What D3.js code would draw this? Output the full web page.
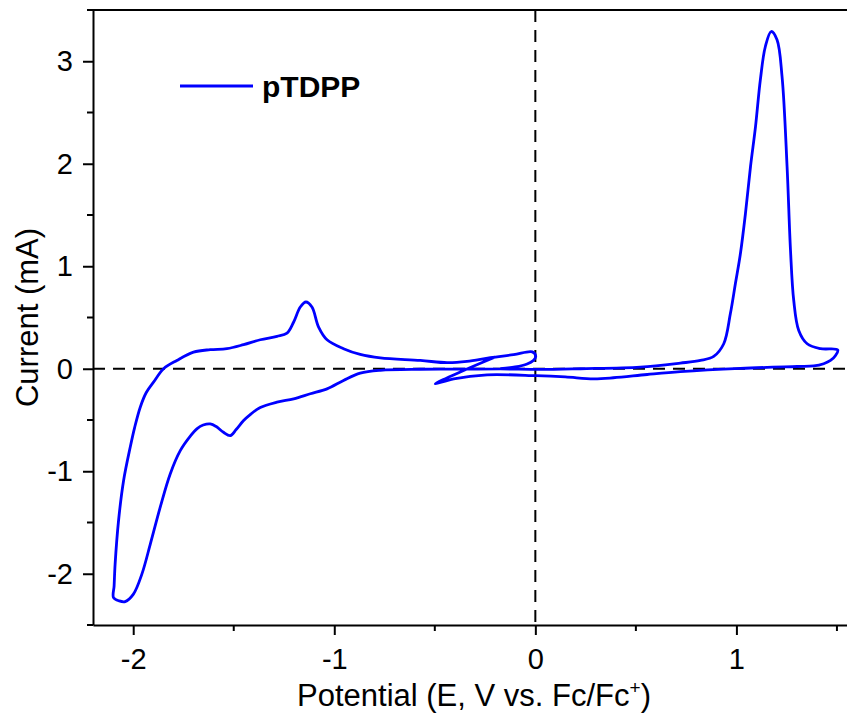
<!DOCTYPE html>
<html>
<head>
<meta charset="utf-8">
<script src="https://cdn.jsdelivr.net/npm/d3@7"></script>
<style>
  body { margin: 0; background: white; }
</style>
</head>
<body>
<script>
// Cyclic voltammogram (one continuous trace)
const potential = [
  -0.199, -0.357, -0.498,
  -0.406, -0.240, 0.005, 0.149, 0.289, 0.388, 0.556, 0.721, 1.020, 1.302, 1.385, 1.434, 1.468, 1.493, 1.504,
  1.418, 1.352, 1.310, 1.285, 1.269, 1.252, 1.227, 1.202, 1.173, 1.144, 1.119, 1.095, 1.070, 1.045, 1.020,
  0.995, 0.970, 0.937, 0.887, 0.821, 0.721, 0.522, 0.224, 0.025,
  -0.174, -0.373, -0.572, -0.771, -0.871, -0.954, -1.036, -1.119, -1.202, -1.285, -1.368, -1.418, -1.451,
  -1.488, -1.517, -1.551, -1.587, -1.617, -1.652, -1.682, -1.716, -1.766, -1.816, -1.866, -1.915, -1.957,
  -1.999, -2.040, -2.070, -2.098,
  -2.095, -2.090, -2.073, -2.048, -2.015, -1.993, -1.965, -1.935, -1.899, -1.849, -1.783, -1.700, -1.617,
  -1.534, -1.451, -1.368, -1.285, -1.235, -1.202, -1.169, -1.141, -1.111, -1.078, -1.036, -0.954, -0.871,
  -0.771, -0.572, -0.439, -0.340, -0.224, -0.108, -0.015,
  0.002, -0.010, -0.041, -0.100, -0.174
];
const current = [
  0.115, -0.017, -0.147,
  -0.098, -0.059, -0.068, -0.080, -0.098, -0.088, -0.056, -0.028, 0.004, 0.022, 0.027, 0.049, 0.081, 0.130, 0.184,
  0.196, 0.244, 0.374, 0.668, 1.156, 1.971, 2.850, 3.209, 3.290, 3.144, 2.818, 2.362, 1.971, 1.515, 1.124,
  0.831, 0.538, 0.244, 0.120, 0.081, 0.055, 0.016, 0.000, -0.007,
  -0.002, -0.004, -0.005, -0.015, -0.043, -0.114, -0.196, -0.244, -0.293, -0.326, -0.378, -0.447, -0.505,
  -0.593, -0.652, -0.620, -0.564, -0.538, -0.549, -0.584, -0.657, -0.799, -1.026, -1.353, -1.711, -2.004,
  -2.199, -2.272, -2.265, -2.233,
  -2.118, -1.906, -1.483, -1.092, -0.766, -0.574, -0.375, -0.232, -0.131, 0.000, 0.081, 0.162, 0.186,
  0.196, 0.235, 0.283, 0.316, 0.348, 0.456, 0.602, 0.651, 0.602, 0.407, 0.283, 0.196, 0.140,
  0.106, 0.081, 0.059, 0.071, 0.108, 0.137, 0.165,
  0.120, 0.081, 0.047, 0.018, 0.000
];
const seriesName = "pTDPP";
const xMajor = [-2, -1, 0, 1];
const xMinor = [-1.5, -0.5, 0.5, 1.5];
const yMajor = [-2, -1, 0, 1, 2, 3];
const yMinor = [-2.5, -1.5, -0.5, 0.5, 1.5, 2.5, 3.5];

// Dimensions
const width = 847;
const height = 714;
const marginTop = 10;
const marginLeft = 93;
const marginBottom = 89;
const tickFont = "29px 'Liberation Sans', Arial, sans-serif";
const titleFont = "31px 'Liberation Sans', Arial, sans-serif";
const blue = "#0000ff";

const x = d3.scaleLinear()
  .domain([-2.2, 1.55])
  .range([marginLeft, width]);

const y = d3.scaleLinear()
  .domain([-2.5, 3.5])
  .range([height - marginBottom, marginTop]);

// plain hyphen for negative tick labels, like the original
const fmt = d => String(d);

const svg = d3.select("body").append("svg")
  .attr("width", width)
  .attr("height", height)
  .attr("viewBox", [0, 0, width, height]);

// Dashed reference lines at 0 V and 0 mA
svg.append("line")
  .attr("x1", x(-2.2)).attr("x2", x(1.55))
  .attr("y1", y(0)).attr("y2", y(0))
  .attr("stroke", "black").attr("stroke-width", 2)
  .attr("stroke-dasharray", "12,8");
svg.append("line")
  .attr("x1", x(0)).attr("x2", x(0))
  .attr("y1", y(3.5)).attr("y2", y(-2.5))
  .attr("stroke", "black").attr("stroke-width", 2)
  .attr("stroke-dasharray", "12,8");

// The curve
const points = potential.map((p, i) => [p, current[i]]);
const line = d3.line()
  .x(d => x(d[0]))
  .y(d => y(d[1]))
  .curve(d3.curveCatmullRom.alpha(0.5));

svg.append("path")
  .datum(points)
  .attr("fill", "none")
  .attr("stroke", blue)
  .attr("stroke-width", 2.8)
  .attr("stroke-linejoin", "round")
  .attr("d", line);

// Bottom axis
const gx = svg.append("g")
  .attr("transform", `translate(0,${height - marginBottom})`)
  .call(d3.axisBottom(x).tickValues(xMajor).tickSize(10).tickPadding(13)
    .tickFormat(fmt).tickSizeOuter(0))
  .call(g => g.selectAll("text").attr("style", `font: ${tickFont}`).attr("fill", "black"));
gx.call(g => g.append("g")
  .selectAll("line").data(xMinor).join("line")
  .attr("x1", d => x(d)).attr("x2", d => x(d))
  .attr("y1", 0).attr("y2", 6)
  .attr("stroke", "black").attr("stroke-width", 2));
gx.selectAll(".domain, .tick line").attr("stroke-width", 2);

// Left axis
const gy = svg.append("g")
  .attr("transform", `translate(${marginLeft},0)`)
  .call(d3.axisLeft(y).tickValues(yMajor).tickSize(10).tickPadding(10)
    .tickFormat(fmt).tickSizeOuter(0))
  .call(g => g.selectAll("text").attr("style", `font: ${tickFont}`).attr("fill", "black"));
gy.call(g => g.append("g")
  .selectAll("line").data(yMinor).join("line")
  .attr("x1", 0).attr("x2", -6)
  .attr("y1", d => y(d)).attr("y2", d => y(d))
  .attr("stroke", "black").attr("stroke-width", 2));
gy.selectAll(".domain, .tick line").attr("stroke-width", 2);

// Top frame line
svg.append("line")
  .attr("x1", marginLeft).attr("x2", width)
  .attr("y1", y(3.5)).attr("y2", y(3.5))
  .attr("stroke", "black").attr("stroke-width", 2);

// Axis titles
const xt = svg.append("text")
  .attr("x", (marginLeft + width) / 2 + 4)
  .attr("y", 706)
  .attr("text-anchor", "middle")
  .attr("style", `font: ${titleFont}`)
  .text("Potential (E, V vs. Fc/Fc");
xt.append("tspan").attr("dy", -12).attr("font-size", 19).text("+");
xt.append("tspan").attr("dy", 12).text(")");

svg.append("text")
  .attr("transform", `translate(38,${(marginTop + height - marginBottom) / 2}) rotate(-90)`)
  .attr("text-anchor", "middle")
  .attr("style", `font: ${titleFont}`)
  .text("Current (mA)");

// Legend
const legend = svg.append("g");
legend.append("line")
  .attr("x1", 180).attr("x2", 253)
  .attr("y1", 86).attr("y2", 86)
  .attr("stroke", blue).attr("stroke-width", 2.8);
legend.append("text")
  .attr("x", 262).attr("y", 86)
  .attr("dy", "0.36em")
  .attr("style", "font: bold 30px 'Liberation Sans', Arial, sans-serif")
  .text(seriesName);
</script>
</body>
</html>
